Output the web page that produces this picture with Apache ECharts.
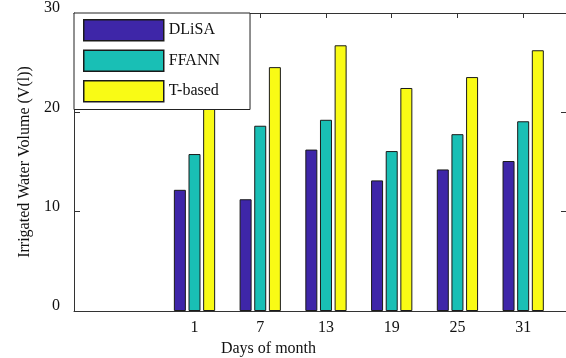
<!DOCTYPE html>
<html>
<head>
<meta charset="utf-8">
<script src="https://cdn.jsdelivr.net/npm/echarts@6/dist/echarts.min.js"></script>
<style>
  html, body { margin: 0; padding: 0; background: #fff; }
  #chart { width: 566px; height: 358px; }
</style>
</head>
<body>
<div id="chart"></div>
<script>
var days = [1, 7, 13, 19, 25, 31];
var dlisa = [12.2, 11.25, 16.25, 13.15, 14.25, 15.1];
var ffann = [15.8, 18.65, 19.25, 16.1, 17.8, 19.1];
var tbased = [22.0, 24.55, 26.75, 22.45, 23.55, 26.25];
var yTicks = [0, 10, 20, 30];

function pairs(vals) {
    var out = [];
    for (var i = 0; i < days.length; i++) {
        out.push([days[i], vals[i]]);
    }
    return out;
}

var font = 'Liberation Serif';
var axisColor = '#333';
var edge = { color: '#1a1a1a', width: 1 };

var myChart = echarts.init(document.getElementById('chart'));
var option = {
    animation: false,
    textStyle: { fontFamily: font },
    grid: { left: 74, right: -1, top: 13, bottom: 47, outerBoundsMode: 'none', containLabel: false },
    legend: {
        orient: 'vertical',
        left: 74,
        top: 13,
        padding: [6, 30, 7, 9],
        itemWidth: 80,
        itemHeight: 21,
        itemGap: 8,
        icon: 'rect',
        backgroundColor: '#fff',
        borderColor: '#222',
        borderWidth: 1,
        borderRadius: 0,
        itemStyle: { borderColor: '#1a1a1a', borderWidth: 1.5 },
        textStyle: { fontFamily: font, fontSize: 16, color: '#111' },
        data: ['DLiSA', 'FFANN', 'T-based']
    },
    xAxis: [{
        type: 'value',
        min: -10,
        max: 35,
        name: 'Days of month',
        nameLocation: 'middle',
        nameGap: 27,
        nameTextStyle: { fontFamily: font, fontSize: 16, color: '#111', padding: [0, 104, 0, 0] },
        axisLine: { show: true, onZero: false, lineStyle: { color: axisColor } },
        axisTick: { show: true, inside: true, length: 5, customValues: days, lineStyle: { color: axisColor } },
        axisLabel: { fontFamily: font, fontSize: 16, color: '#111', margin: 9, customValues: days },
        splitLine: { show: false }
    }, {
        type: 'value',
        position: 'top',
        min: -10,
        max: 35,
        axisLine: { show: true, onZero: false, lineStyle: { color: axisColor } },
        axisTick: { show: true, inside: true, length: 5, customValues: days, lineStyle: { color: axisColor } },
        axisLabel: { show: false },
        splitLine: { show: false }
    }],
    yAxis: [{
        type: 'value',
        min: 0,
        max: 30,
        interval: 10,
        name: 'Irrigated Water Volume (V(l))',
        nameLocation: 'middle',
        nameGap: 40,
        nameTextStyle: { fontFamily: font, fontSize: 16, color: '#111' },
        axisLine: { show: true, onZero: false, lineStyle: { color: axisColor } },
        axisTick: { show: true, inside: true, length: 6, customValues: yTicks, lineStyle: { color: axisColor } },
        axisLabel: { fontFamily: font, fontSize: 16, color: '#111', margin: 14, verticalAlign: 'bottom', lineHeight: 10, customValues: yTicks },
        splitLine: { show: false }
    }, {
        type: 'value',
        position: 'right',
        min: 0,
        max: 30,
        interval: 10,
        axisLine: { show: true, onZero: false, lineStyle: { color: axisColor } },
        axisTick: { show: true, inside: true, length: 6, lineStyle: { color: axisColor } },
        axisLabel: { show: false },
        splitLine: { show: false }
    }],
    series: [
        {
            name: 'DLiSA',
            type: 'bar',
            barWidth: 12,
            barGap: '22%',
            data: pairs(dlisa),
            itemStyle: { color: '#3e26a8', borderColor: edge.color, borderWidth: edge.width }
        },
        {
            name: 'FFANN',
            type: 'bar',
            barWidth: 12,
            barGap: '22%',
            data: pairs(ffann),
            itemStyle: { color: '#19bfb5', borderColor: edge.color, borderWidth: edge.width }
        },
        {
            name: 'T-based',
            type: 'bar',
            barWidth: 12,
            barGap: '22%',
            data: pairs(tbased),
            itemStyle: { color: '#f9fb15', borderColor: edge.color, borderWidth: edge.width }
        }
    ]
};
myChart.setOption(option);
</script>
</body>
</html>
